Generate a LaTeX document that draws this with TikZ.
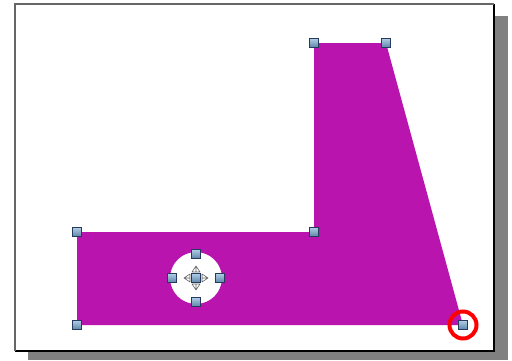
\documentclass[tikz,border=0pt]{standalone}
\usetikzlibrary{arrows.meta, positioning}
\definecolor{shapefill}{RGB}{186,20,174}
\definecolor{handlefill}{RGB}{118,168,210}
\definecolor{handledraw}{RGB}{38,58,96}
\definecolor{shadowgray}{RGB}{128,128,128}

\begin{document}
\begin{tikzpicture}[
    x=1pt, y=-1pt,
    handle/.style={rectangle, draw=handledraw, line width=0.8pt, minimum size=8.5pt, inner sep=0pt,
        top color=handlefill!60!white, bottom color=handlefill!80!black},
    movetip/.style={draw=black!60, fill=white, line width=0.6pt, line join=round},
    marker/.style={circle, draw=red, line width=4pt, minimum size=27pt, inner sep=0pt},
]
\useasboundingbox (0,0) rectangle (512,360);

% Page with shadow
\fill[shadowgray] (28,16) rectangle (508,360);
\fill[white] (15,4) rectangle (494,351);
\draw[black, line width=1.2pt] (494,4) -- (494,351) -- (15,351);
\draw[black!60, line width=1.6pt] (15,351) -- (15,4) -- (494,4);

% Vertices of the polygon
\coordinate (p1) at (77,232);
\coordinate (p2) at (314,232);
\coordinate (p3) at (314,43);
\coordinate (p4) at (386,43);
\coordinate (p5) at (463,325);
\coordinate (p6) at (77,325);
\coordinate (hole) at (196,278);

% Polygon with a round hole
\fill[shapefill, even odd rule] (p1) -- (p2) -- (p3) -- (p4) -- (p5) -- (p6) -- cycle
    (hole) circle[radius=26];

% Handles on the vertices
\foreach \p in {p1,p2,p3,p4,p5,p6}
    \node[handle] at (\p) {};

% Handles on the hole
\node[handle] (hn) at ([yshift=-24]hole) {};
\node[handle] (he) at ([xshift=24]hole) {};
\node[handle] (hs) at ([yshift=24]hole) {};
\node[handle] (hw) at ([xshift=-24]hole) {};

% Move icon at the centre
\foreach \a in {0,90,180,270}
    \draw[movetip, rotate around={\a:(hole)}] ([xshift=6]hole) -- ([xshift=12]hole) -- ([xshift=6,yshift=-4]hole) -- cycle
        ([xshift=6]hole) -- ([xshift=6,yshift=4]hole) -- ([xshift=12]hole);
\node[handle] (hc) at (hole) {};

% Marked vertex
\node[marker] (mark) at (p5) {};

\end{tikzpicture}
\end{document}
